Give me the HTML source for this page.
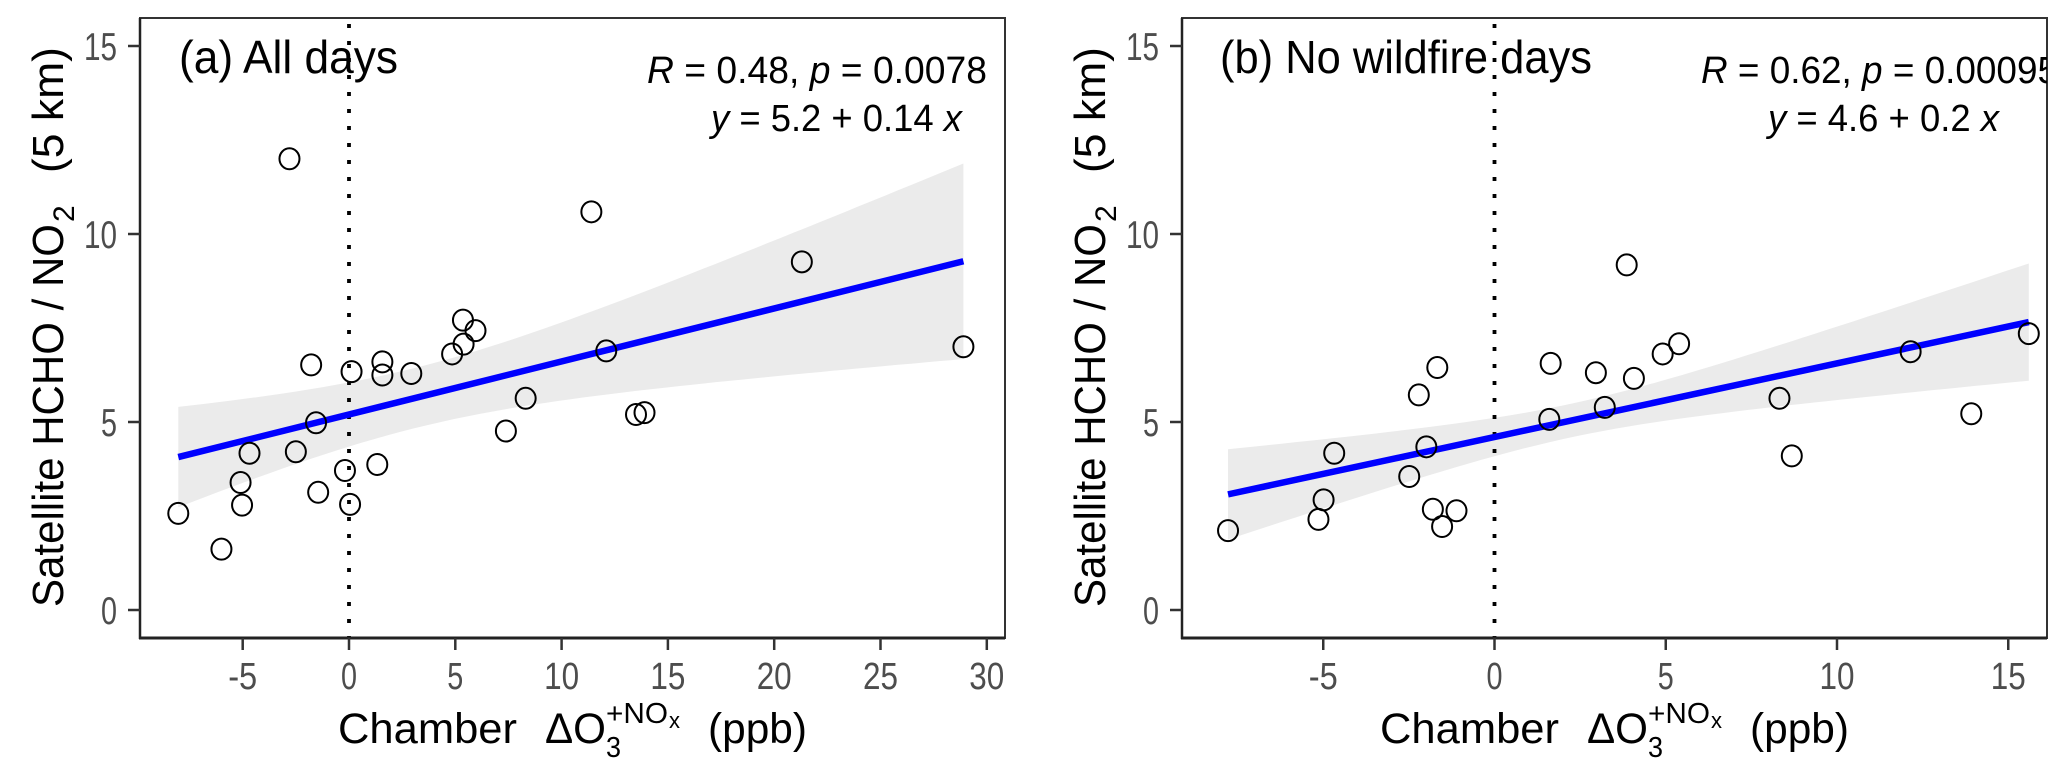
<!DOCTYPE html>
<html><head><meta charset="utf-8"><style>
html,body{margin:0;padding:0;background:#fff;}
svg{display:block;font-family:"Liberation Sans",Arial,sans-serif;}
</style></head><body>
<svg id="chart" width="2067" height="776" viewBox="0 0 2067 776" xmlns="http://www.w3.org/2000/svg">
<defs>
<clipPath id="clipA"><rect x="140" y="18" width="865" height="620"/></clipPath>
<clipPath id="clipB"><rect x="1182" y="18" width="865" height="620"/></clipPath>
</defs>
<g id="panelA"></g>
<g id="panelB"></g>
</svg>
<script>
// ---- Panel (a) data ----
const aX = [-2.8, 11.4, 5.36, 5.95, 5.39, 4.85, -1.78, 1.57, 1.57, 0.12, 2.93, 12.1, 8.31, 7.38, 13.5, 13.9, -1.55, -4.68, -2.5, -0.19, 1.33, -5.1, -1.45, -5.03, 0.05, -8.03, -6.0, 21.3, 28.9];
const aY = [12.0, 10.59, 7.71, 7.43, 7.07, 6.81, 6.52, 6.60, 6.25, 6.34, 6.29, 6.89, 5.63, 4.76, 5.20, 5.25, 4.98, 4.17, 4.21, 3.71, 3.87, 3.39, 3.13, 2.79, 2.81, 2.57, 1.62, 9.26, 7.0];
const aFit = [5.2, 0.141];            // intercept, slope
const aCI = [0.64, 0.00919, 3.1];     // variance floor, slope term, centre x
const aXTicks = [-5, 0, 5, 10, 15, 20, 25, 30];
const aXTickLabels = ["-5", "0", "5", "10", "15", "20", "25", "30"];
// ---- Panel (b) data ----
const bX = [-7.78, -5.14, -4.99, -4.68, -2.49, -1.99, -2.21, -1.67, -1.80, -1.53, -1.11, 1.6, 1.64, 2.96, 3.22, 3.86, 4.07, 4.91, 5.39, 8.32, 8.68, 12.15, 13.92, 15.6];
const bY = [2.11, 2.41, 2.93, 4.17, 3.55, 4.34, 5.72, 6.45, 2.68, 2.22, 2.64, 5.07, 6.56, 6.31, 5.39, 9.18, 6.16, 6.81, 7.08, 5.63, 4.10, 6.87, 5.22, 7.35];
const bFit = [4.6, 0.196];
const bCI = [0.2, 0.01243, 2.21];
const bXTicks = [-5, 0, 5, 10, 15];
const bXTickLabels = ["-5", "0", "5", "10", "15"];
// ---- shared y axis ----
const yTicks = [0, 5, 10, 15];
const yTickLabels = ["0", "5", "10", "15"];

const NS = "http://www.w3.org/2000/svg";
function mk(parent, tag, attrs, text) {
  const el = document.createElementNS(NS, tag);
  for (const k in attrs) el.setAttribute(k, attrs[k]);
  if (text !== undefined) el.textContent = text;
  parent.appendChild(el);
  return el;
}
const yScale = v => 610 - v * 37.6;

function drawPanel(g, opt) {
  const {left, right, x0px, pxPerUnit, xs, ys, fit, ci, xTicks, xTickLabels, clip, off} = opt;
  const xScale = v => x0px + v * pxPerUnit;
  const top = 18, bottom = 638;
  const plot = mk(g, "g", {"clip-path": "url(#" + clip + ")"});
  
  
  const xmin = Math.min(...xs), xmax = Math.max(...xs);
  const N = 60, up = [], lo = [];
  for (let i = 0; i <= N; i++) {
    const x = xmin + (xmax - xmin) * i / N;
    const yhat = fit[0] + fit[1] * x;
    const h = Math.sqrt(ci[0] + ci[1] * (x - ci[2]) * (x - ci[2]));
    up.push(xScale(x).toFixed(1) + "," + yScale(yhat + h).toFixed(1));
    lo.unshift(xScale(x).toFixed(1) + "," + yScale(yhat - h).toFixed(1));
  }
  const band = mk(plot, "polygon", {points: up.concat(lo).join(" "), fill: "#ebebeb"});
  
  
  const zl = mk(plot, "line", {x1: xScale(0), x2: xScale(0), y1: top + 6, y2: bottom, stroke: "#000", "stroke-width": 3.8, "stroke-dasharray": "4 13"});
  
  
  const rl = mk(plot, "line", {x1: xScale(xmin), y1: yScale(fit[0] + fit[1] * xmin), x2: xScale(xmax), y2: yScale(fit[0] + fit[1] * xmax), stroke: "#0000ff", "stroke-width": 6.5});
  
  
  for (let i = 0; i < xs.length; i++) {
    const c = mk(plot, "ellipse", {cx: xScale(xs[i]), cy: yScale(ys[i]), rx: 10, ry: 10.5, fill: "none", stroke: "#000", "stroke-width": 2});
    
    
  }
  const fr = mk(g, "rect", {x: left, y: top, width: right - left, height: bottom - top, fill: "none", stroke: "#333", "stroke-width": 2});
  
  
  mk(g, "line", {x1: left, x2: left, y1: top, y2: bottom + 1, stroke: "#222", "stroke-width": 2.5});
  mk(g, "line", {x1: left - 1, x2: right, y1: bottom, y2: bottom, stroke: "#222", "stroke-width": 3});
  yTicks.forEach((v, i) => {
    mk(g, "line", {x1: left - 12, x2: left, y1: yScale(v), y2: yScale(v), stroke: "#333", "stroke-width": 2.5});
    const lab = yTickLabels[i];
    const t = mk(g, "text", {x: off + 117, y: yScale(v) + 14, "text-anchor": "end", "font-size": 39, fill: "#4d4d4d", textLength: lab.length > 1 ? 33 : 16, lengthAdjust: "spacingAndGlyphs"}, lab);
    
    
  });
  xTicks.forEach((v, i) => {
    mk(g, "line", {x1: xScale(v), x2: xScale(v), y1: bottom, y2: bottom + 12, stroke: "#333", "stroke-width": 2.5});
    const lab = xTickLabels[i];
    const w = lab.length === 1 ? 16 : (lab[0] === "-" ? 29 : 35);
    const t = mk(g, "text", {x: xScale(v), y: 689, "text-anchor": "middle", "font-size": 38, fill: "#4d4d4d", textLength: w, lengthAdjust: "spacingAndGlyphs"}, lab);
    
    
  });
  const xt = mk(g, "g", {});
  
  
  mk(xt, "text", {x: off + 338, y: 743, "font-size": 43, textLength: 179, lengthAdjust: "spacingAndGlyphs"}, "Chamber");
  mk(xt, "text", {x: off + 545, y: 743, "font-size": 43, textLength: 61, lengthAdjust: "spacingAndGlyphs"}, "ΔO");
  mk(xt, "text", {x: off + 606, y: 757, "font-size": 29, textLength: 15, lengthAdjust: "spacingAndGlyphs"}, "3");
  mk(xt, "text", {x: off + 606, y: 723, "font-size": 29, textLength: 62, lengthAdjust: "spacingAndGlyphs"}, "+NO");
  mk(xt, "text", {x: off + 669, y: 728, "font-size": 22, textLength: 11, lengthAdjust: "spacingAndGlyphs"}, "x");
  mk(xt, "text", {x: off + 708, y: 743, "font-size": 43, textLength: 99, lengthAdjust: "spacingAndGlyphs"}, "(ppb)");
  const yt = mk(g, "g", {transform: "translate(" + (off + 63) + ",607) rotate(-90)"});
  
  
  mk(yt, "text", {x: 0, y: 0, "font-size": 44, textLength: 383, lengthAdjust: "spacingAndGlyphs"}, "Satellite HCHO / NO");
  mk(yt, "text", {x: 385, y: 11, "font-size": 30}, "2");
  mk(yt, "text", {x: 434, y: 0, "font-size": 44, textLength: 126, lengthAdjust: "spacingAndGlyphs"}, "(5 km)");
}

const gA = document.getElementById("panelA");
drawPanel(gA, {left: 140, right: 1005, x0px: 349, pxPerUnit: 21.26, xs: aX, ys: aY, fit: aFit, ci: aCI, xTicks: aXTicks, xTickLabels: aXTickLabels, clip: "clipA", off: 0});
const gB = document.getElementById("panelB");
drawPanel(gB, {left: 1182, right: 2047, x0px: 1494.5, pxPerUnit: 34.25, xs: bX, ys: bY, fit: bFit, ci: bCI, xTicks: bXTicks, xTickLabels: bXTickLabels, clip: "clipB", off: 1042});

function label(g, x, y, txt, len, name) {
  const t = mk(g, "text", {x: x, y: y, "font-size": 46, textLength: len, lengthAdjust: "spacingAndGlyphs"}, txt);
  
  
}
label(gA, 179, 73, "(a) All days", 219, "panel-a-title");
label(gB, 1220, 73, "(b) No wildfire days", 372, "panel-b-title");

function stats(g, x, y, parts, len, clip, name) {
  const t = mk(g, "text", {x: x, y: y, "font-size": 38, textLength: len, lengthAdjust: "spacingAndGlyphs", "clip-path": clip ? "url(#" + clip + ")" : ""});
  
  
  parts.forEach(p => {
    mk(t, "tspan", p[1] ? {"font-style": "italic"} : {}, p[0]);
  });
}
stats(gA, 647, 83, [["R", 1], [" = 0.48, ", 0], ["p", 1], [" = 0.0078", 0]], 340, null, "stats-r-p-a");
stats(gA, 711, 131, [["y", 1], [" = 5.2 + 0.14 ", 0], ["x", 1]], 251, null, "regression-equation-a");
stats(gB, 1701, 83, [["R", 1], [" = 0.62, ", 0], ["p", 1], [" = 0.00095", 0]], 357, "clipB", "stats-r-p-b");
stats(gB, 1768, 131, [["y", 1], [" = 4.6 + 0.2 ", 0], ["x", 1]], 231, null, "regression-equation-b");
</script>
</body></html>
